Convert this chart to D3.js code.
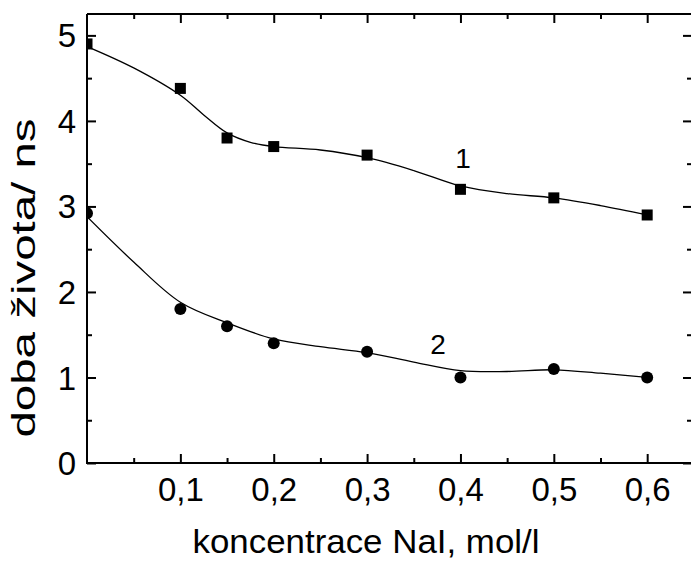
<!DOCTYPE html>
<html>
<head>
<meta charset="utf-8">
<script src="https://cdn.jsdelivr.net/npm/d3@7"></script>
<style>
  body { margin: 0; background: #fff; }
  text { font-family: "Liberation Sans", Arial, sans-serif; fill: #000; }
</style>
</head>
<body>
<div id="chart"></div>
<script>
// measured points
var concentration = [0, 0.1, 0.15, 0.2, 0.3, 0.4, 0.5, 0.6];
var lifetime1 = [4.9, 4.38, 3.8, 3.7, 3.6, 3.2, 3.1, 2.9];
var lifetime2 = [2.92, 1.8, 1.6, 1.4, 1.3, 1.0, 1.1, 1.0];

// smoothed fit curves
var fitX1 = [0, 0.05, 0.1, 0.125, 0.15, 0.175, 0.2, 0.25, 0.3, 0.35, 0.4, 0.45, 0.5, 0.55, 0.6];
var fitY1 = [4.87, 4.62, 4.30, 4.07, 3.86, 3.75, 3.70, 3.66, 3.57, 3.42, 3.24, 3.15, 3.10, 3.01, 2.90];
var fitX2 = [0, 0.05, 0.1, 0.15, 0.2, 0.25, 0.3, 0.35, 0.4, 0.45, 0.5, 0.55, 0.6];
var fitY2 = [2.88, 2.35, 1.88, 1.64, 1.45, 1.36, 1.29, 1.18, 1.08, 1.07, 1.09, 1.05, 1.0];

var xTicks = [0.1, 0.2, 0.3, 0.4, 0.5, 0.6];
var xMinor = [0.05, 0.15, 0.25, 0.35, 0.45, 0.55];
var yTicks = [0, 1, 2, 3, 4, 5];
var yMinor = [0.5, 1.5, 2.5, 3.5, 4.5];

var svgWidth = 691;
var svgHeight = 562;
var plotLeft = 87, plotRight = 692, plotTop = 14, plotBottom = 463;

var svg = d3.select("#chart")
    .append("svg")
    .attr("width", svgWidth)
    .attr("height", svgHeight);

var x = d3.scaleLinear().domain([0, 0.648]).range([plotLeft, plotRight]);
var y = d3.scaleLinear().domain([0, 5.25]).range([plotBottom, plotTop]);

var fmt = function (d) { return String(d).replace(".", ","); };

// axes: ticks point inward on all four sides
function axisGroup(axis, tx, ty) {
    var g = svg.append("g")
        .attr("transform", "translate(" + tx + "," + ty + ")")
        .call(axis);
    g.select(".domain").remove();
    g.selectAll("line").attr("stroke", "#000").attr("stroke-width", 2);
    return g;
}

var bottomAxis = axisGroup(d3.axisBottom(x).tickValues(xTicks).tickSizeInner(-9).tickSizeOuter(0).tickFormat(fmt), 0, plotBottom);
bottomAxis.selectAll("text")
    .attr("y", 38)
    .attr("dy", 0)
    .style("font-size", "33px");
axisGroup(d3.axisBottom(x).tickValues(xMinor).tickSize(-5).tickFormat(""), 0, plotBottom);
axisGroup(d3.axisTop(x).tickValues(xTicks).tickSize(-9).tickFormat(""), 0, plotTop);
axisGroup(d3.axisTop(x).tickValues(xMinor).tickSize(-5).tickFormat(""), 0, plotTop);

var leftAxis = axisGroup(d3.axisLeft(y).tickValues(yTicks).tickSizeInner(-9).tickSizeOuter(0).tickFormat(d3.format("d")), plotLeft, 0);
leftAxis.selectAll("text")
    .attr("x", -11)
    .attr("dy", "0.35em")
    .style("font-size", "33px");
axisGroup(d3.axisLeft(y).tickValues(yMinor).tickSize(-5).tickFormat(""), plotLeft, 0);
axisGroup(d3.axisRight(y).tickValues(yTicks).tickSize(-9).tickFormat(""), plotRight, 0);
axisGroup(d3.axisRight(y).tickValues(yMinor).tickSize(-5).tickFormat(""), plotRight, 0);

// frame lines
svg.append("path")
    .attr("d", "M" + plotLeft + "," + plotTop + "V" + plotBottom + "H" + plotRight)
    .attr("fill", "none")
    .attr("stroke", "#000")
    .attr("stroke-width", 2);
svg.append("line")
    .attr("x1", plotLeft).attr("x2", plotRight)
    .attr("y1", plotTop).attr("y2", plotTop)
    .attr("stroke", "#000")
    .attr("stroke-width", 2);

svg.append("clipPath").attr("id", "plot")
    .append("rect")
    .attr("x", plotLeft + 1).attr("y", plotTop)
    .attr("width", plotRight - plotLeft).attr("height", plotBottom - plotTop);

var plot = svg.append("g").attr("clip-path", "url(#plot)");

var line = d3.line()
    .x(function (d) { return x(d[0]); })
    .y(function (d) { return y(d[1]); })
    .curve(d3.curveCatmullRom);

plot.append("path")
    .attr("d", line(d3.zip(fitX1, fitY1)))
    .attr("fill", "none")
    .attr("stroke", "#000")
    .attr("stroke-width", 1.3);
plot.append("path")
    .attr("d", line(d3.zip(fitX2, fitY2)))
    .attr("fill", "none")
    .attr("stroke", "#000")
    .attr("stroke-width", 1.3);

var sq = 11;
plot.selectAll("rect.s1")
    .data(d3.zip(concentration, lifetime1))
    .enter()
    .append("rect")
    .attr("class", "s1")
    .attr("x", function (d) { return x(d[0]) - sq / 2; })
    .attr("y", function (d) { return y(d[1]) - sq / 2; })
    .attr("width", sq)
    .attr("height", sq)
    .attr("fill", "#000");

plot.selectAll("circle.s2")
    .data(d3.zip(concentration, lifetime2))
    .enter()
    .append("circle")
    .attr("class", "s2")
    .attr("cx", function (d) { return x(d[0]); })
    .attr("cy", function (d) { return y(d[1]); })
    .attr("r", 6)
    .attr("fill", "#000");

// curve labels
svg.append("text")
    .attr("x", 463).attr("y", 168)
    .attr("text-anchor", "middle")
    .style("font-size", "28px")
    .text("1");
svg.append("text")
    .attr("x", 438).attr("y", 354)
    .attr("text-anchor", "middle")
    .style("font-size", "28px")
    .text("2");

// axis titles
svg.append("text")
    .attr("x", 366)
    .attr("y", 553)
    .attr("text-anchor", "middle")
    .attr("textLength", 347)
    .attr("lengthAdjust", "spacingAndGlyphs")
    .style("font-size", "33px")
    .text("koncentrace NaI, mol/l");

svg.append("text")
    .attr("transform", "translate(35,278) rotate(-90)")
    .attr("text-anchor", "middle")
    .attr("textLength", 319)
    .attr("lengthAdjust", "spacingAndGlyphs")
    .style("font-size", "33px")
    .text("doba života/ ns");
</script>
</body>
</html>
